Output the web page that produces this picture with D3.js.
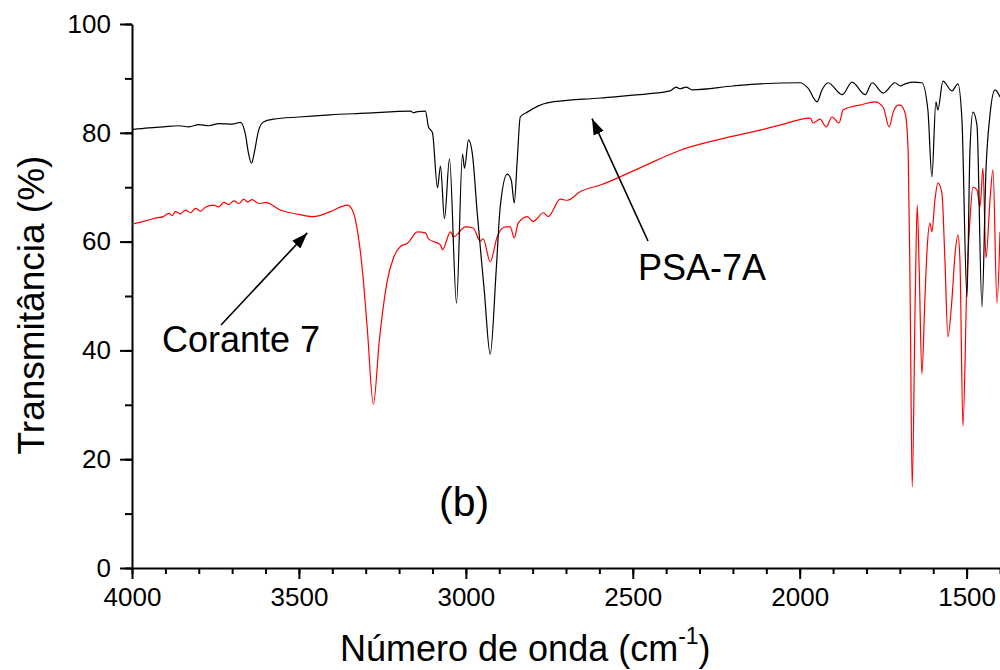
<!DOCTYPE html>
<html>
<head>
<meta charset="utf-8">
<script src="https://cdn.jsdelivr.net/npm/d3@7.9.0/dist/d3.min.js"></script>
<style>
  body { margin: 0; background: #fff; }
  svg { display: block; font-family: "Liberation Sans", Arial, sans-serif; }
  .axis path, .axis line { stroke: #000; stroke-width: 2; }
  .axis text { font-size: 26px; fill: #000; font-family: "Liberation Sans", Arial, sans-serif; }
</style>
</head>
<body>
<svg id="chart" width="1000" height="670"></svg>
<script>
// wavenumber (cm-1), transmittance (%)
const psa7a = [
  [4000, 80.6], [3950, 80.9], [3906, 81.1], [3860, 81.3], [3830, 81.1], [3800, 81.5],
  [3770, 81.3], [3740, 81.7], [3700, 81.6], [3675, 81.9], [3660, 79.6], [3651, 76.2],
  [3642, 74.4], [3633, 76.6], [3621, 80.4], [3606, 82.0], [3576, 82.5], [3500, 82.9],
  [3406, 83.3], [3300, 83.6], [3166, 84.0], [3157, 83.7], [3145, 83.9], [3121, 84.0],
  [3112, 81.1], [3100, 80.0], [3085, 69.9], [3076, 73.9], [3064, 64.2], [3049, 75.2],
  [3028, 48.7], [3010, 76.1], [3004, 73.5], [2992, 78.7], [2980, 75.9], [2966, 65.3],
  [2945, 51.1], [2927, 39.3], [2909, 54.8], [2897, 66.4], [2876, 72.4], [2864, 71.3],
  [2855, 67.1], [2846, 75.0], [2837, 82.9], [2816, 83.8], [2756, 85.5], [2597, 86.4],
  [2450, 87.2], [2388, 87.7], [2370, 88.4], [2358, 88.1], [2340, 88.4], [2322, 87.9],
  [2200, 88.6], [2118, 89.0], [1999, 89.2], [1975, 88.2], [1948, 85.7], [1933, 87.9],
  [1915, 89.2], [1873, 87.0], [1843, 89.3], [1804, 87.0], [1783, 89.2], [1750, 87.3],
  [1714, 89.2], [1699, 88.6], [1684, 89.0], [1663, 89.3], [1634, 89.2], [1616, 84.2],
  [1604, 71.9], [1592, 85.7], [1586, 84.2], [1571, 89.5], [1544, 87.7], [1526, 89.0],
  [1514, 82.4], [1499, 49.8], [1490, 76.8], [1481, 83.8], [1469, 81.4], [1454, 48.0],
  [1442, 73.2], [1430, 83.3], [1415, 87.9], [1400, 86.6]
];

const corante7 = [
  [4000, 63.2], [3960, 63.8], [3930, 64.3], [3906, 64.6], [3890, 65.2], [3880, 64.8],
  [3870, 65.5], [3855, 65.1], [3840, 65.8], [3825, 65.3], [3810, 66.1], [3795, 65.6],
  [3780, 66.3], [3756, 66.7], [3740, 66.4], [3725, 67.2], [3710, 66.8], [3695, 67.5],
  [3680, 67.0], [3665, 67.8], [3654, 67.3], [3640, 67.7], [3620, 67.0], [3600, 67.2],
  [3556, 65.8], [3500, 65.0], [3457, 64.6], [3406, 65.5], [3355, 66.7], [3340, 65.8],
  [3325, 62.1], [3310, 54.8], [3295, 43.8], [3277, 30.1], [3259, 41.9], [3235, 52.9],
  [3217, 57.0], [3196, 59.1], [3175, 59.7], [3145, 61.8], [3121, 61.6], [3112, 60.5],
  [3076, 59.4], [3070, 58.5], [3046, 61.8], [3037, 60.9], [3001, 62.7], [2978, 62.5],
  [2957, 60.1], [2948, 60.5], [2927, 56.3], [2906, 60.9], [2882, 62.7], [2867, 62.7],
  [2855, 60.7], [2843, 63.4], [2816, 64.6], [2798, 63.7], [2768, 65.3], [2753, 64.6],
  [2717, 67.8], [2696, 67.6], [2657, 69.2], [2597, 70.4], [2480, 73.5], [2358, 76.8],
  [2240, 78.8], [2118, 80.5], [2060, 81.4], [1968, 82.7], [1960, 81.8], [1939, 82.5],
  [1921, 81.1], [1903, 82.9], [1882, 81.8], [1870, 84.2], [1849, 84.7], [1819, 85.1],
  [1774, 85.7], [1750, 84.7], [1732, 81.1], [1720, 83.8], [1705, 85.1], [1699, 85.1],
  [1684, 83.6], [1675, 76.3], [1669, 49.3], [1663, 14.9], [1654, 49.3], [1648, 66.7],
  [1642, 54.8], [1634, 35.7], [1625, 49.3], [1619, 57.9], [1610, 63.4], [1604, 61.8],
  [1595, 67.6], [1586, 70.8], [1574, 68.9], [1565, 56.6], [1556, 42.5], [1544, 49.3],
  [1535, 57.5], [1526, 61.2], [1520, 56.6], [1511, 26.1], [1499, 52.9], [1490, 64.0],
  [1481, 70.0], [1469, 69.5], [1460, 66.4], [1451, 73.5], [1442, 57.0], [1430, 67.6],
  [1421, 73.2], [1409, 48.7], [1400, 61.8]
];

const xMajorTicks = [4000, 3500, 3000, 2500, 2000, 1500];
const yMajorTicks = [0, 20, 40, 60, 80, 100];

const svg = d3.select('#chart');
const plotL = 132, plotR = 1000, plotT = 24, plotB = 568;

const x = d3.scaleLinear().domain([4000, 1400]).range([plotL, plotR]);
const y = d3.scaleLinear().domain([0, 100]).range([plotB, plotT]);

const defs = svg.append('defs');
defs.append('clipPath').attr('id', 'plot')
  .append('rect').attr('x', plotL).attr('y', plotT).attr('width', plotR - plotL).attr('height', plotB - plotT);

// minor ticks
svg.append('g').attr('class', 'axis').attr('transform', `translate(0,${plotB})`)
  .call(d3.axisBottom(x).tickValues(d3.range(4000, 1399, -100)).tickSize(6).tickFormat(''))
  .call(g => g.select('.domain').remove());
svg.append('g').attr('class', 'axis').attr('transform', `translate(${plotL},0)`)
  .call(d3.axisLeft(y).tickValues(d3.range(0, 101, 10)).tickSize(7).tickFormat(''))
  .call(g => g.select('.domain').remove());

// major ticks + labels
svg.append('g').attr('class', 'axis').attr('transform', `translate(0,${plotB})`)
  .call(d3.axisBottom(x).tickValues(xMajorTicks).tickSize(11).tickSizeOuter(0).tickPadding(9).tickFormat(d3.format('d')));
svg.append('g').attr('class', 'axis').attr('transform', `translate(${plotL},0)`)
  .call(d3.axisLeft(y).tickValues(yMajorTicks).tickSize(12).tickSizeOuter(0).tickPadding(9).tickFormat(d3.format('d')));

const line = d3.line()
  .x(d => x(d[0]))
  .y(d => y(d[1]))
  .curve(d3.curveMonotoneX);

const plot = svg.append('g').attr('clip-path', 'url(#plot)');
plot.append('path').datum(corante7)
  .attr('d', line).attr('fill', 'none').attr('stroke', '#ff0000').attr('stroke-width', 1.2);
plot.append('path').datum(psa7a)
  .attr('d', line).attr('fill', 'none').attr('stroke', '#000').attr('stroke-width', 1.2);

// annotations
defs.append('marker')
  .attr('id', 'head').attr('viewBox', '0 0 10 10').attr('refX', 10).attr('refY', 5)
  .attr('markerWidth', 16).attr('markerHeight', 16).attr('markerUnits', 'userSpaceOnUse')
  .attr('orient', 'auto')
  .append('path').attr('d', 'M0,1.5 L10,5 L0,8.5 Z').attr('fill', '#000');

function arrow(x1, y1, x2, y2) {
  svg.append('line')
    .attr('x1', x1).attr('y1', y1).attr('x2', x2).attr('y2', y2)
    .attr('stroke', '#000').attr('stroke-width', 1.6).attr('marker-end', 'url(#head)');
}
arrow(648, 241, x(2622), y(82.6));
arrow(221, 325, x(3475), y(61.6));

svg.append('text').attr('x', 638).attr('y', 280).attr('font-size', 36).text('PSA-7A');
svg.append('text').attr('x', 162).attr('y', 352).attr('font-size', 36).text('Corante 7');
svg.append('text').attr('x', 439).attr('y', 516).attr('font-size', 41).text('(b)');

// axis titles
svg.append('text')
  .attr('transform', 'translate(44,305) rotate(-90)')
  .attr('text-anchor', 'middle').attr('font-size', 37)
  .text('Transmitância (%)');

const xt = svg.append('text')
  .attr('x', 340).attr('y', 661).attr('font-size', 36);
xt.append('tspan').text('Número de onda (cm');
xt.append('tspan').attr('font-size', 23).attr('dy', -17).text('-1');
xt.append('tspan').attr('dy', 17).text(')');
</script>
</body>
</html>
